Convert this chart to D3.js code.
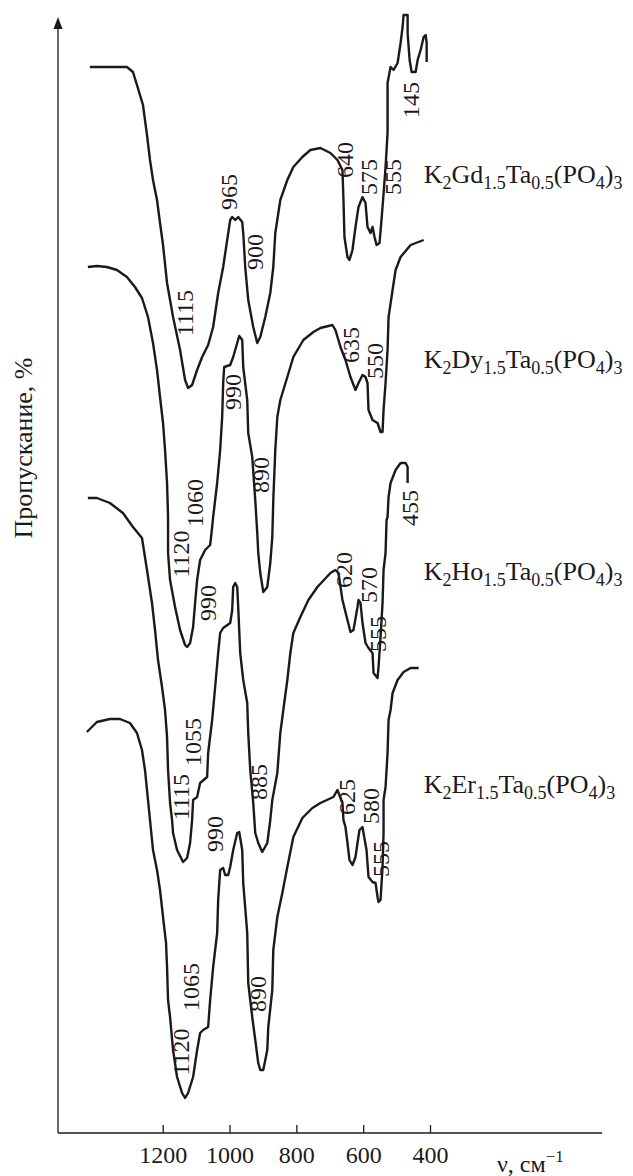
<!DOCTYPE html>
<html>
<head>
<meta charset="utf-8">
<script src="https://cdn.jsdelivr.net/npm/d3@7"></script>
<style>
    body { margin: 0; background: #fff; }
    svg text { font-family: "Liberation Serif", "Times New Roman", serif; fill: #1a1a1a; }
</style>
</head>
<body>
<svg id="chart" width="633" height="1176"></svg>
<script>
// wavenumber (cm-1) and stacked transmission (arb. units)
const tickValues = [1200, 1000, 800, 600, 400];
const seriesElements = ["Gd", "Dy", "Ho", "Er"];
// where each compound name sits: [wavenumber, level]
const seriesLabelPos = [[419, 95.0], [419, 76.5], [419, 55.3], [419, 34.0]];

const gdSpectrum = [
    [1418,106.6],[1307,106.6],[1289,106.1],[1277,104.8],[1259,102.8],[1247,99.8],[1238,97.3],[1229,95.3],
    [1217,93.3],[1208,91.0],[1199,88.8],[1187,85.0],[1169,81.6],[1148,78.3],[1133,75.3],[1124,74.5],
    [1112,74.8],[1097,76.3],[1082,77.6],[1064,78.8],[1049,80.6],[1034,84.0],[1019,86.6],[1007,89.3],
    [998,91.3],[992,91.6],[983,91.3],[974,91.6],[962,91.1],[959,90.0],[953,86.6],[944,83.3],[929,80.6],
    [917,79.0],[908,79.6],[893,81.6],[878,84.0],[869,86.6],[863,90.0],[848,93.3],[827,95.3],[809,96.6],
    [782,97.6],[758,98.3],[728,98.5],[698,98.0],[677,97.3],[662,96.3],[659,93.3],[656,89.6],[647,87.6],
    [641,87.3],[632,88.3],[623,90.6],[614,92.6],[602,93.6],[593,93.0],[587,90.6],[578,90.0],[572,90.6],
    [566,89.6],[560,88.8],[551,89.0],[542,92.6],[533,96.6],[527,100.0],[527,105.0],[518,106.6],[509,106.3],
    [497,107.0],[488,109.0],[482,110.6],[479,111.8],[467,111.8],[467,110.0],[461,107.3],[455,106.1],
    [443,106.1],[437,107.3],[428,108.3],[419,109.6],[413,109.8],[410,109.0],[410,107.1]
];

const dySpectrum = [
    [1424,86.6],[1397,86.7],[1367,86.6],[1337,86.3],[1307,85.6],[1283,84.6],[1262,83.5],[1244,81.6],
    [1229,79.0],[1217,76.3],[1208,73.6],[1199,71.0],[1193,68.3],[1187,65.0],[1184,61.6],[1184,58.0],
    [1178,55.3],[1163,52.6],[1148,50.3],[1133,48.8],[1127,48.6],[1118,49.0],[1109,50.6],[1103,53.0],
    [1097,55.3],[1088,57.3],[1073,58.3],[1058,58.8],[1052,60.6],[1049,61.6],[1037,65.0],[1028,68.3],
    [1022,71.6],[1019,75.0],[1016,76.6],[998,76.8],[989,77.6],[977,79.0],[971,79.7],[962,79.3],[959,76.6],
    [947,73.3],[944,70.0],[932,67.6],[923,63.3],[917,60.0],[914,58.0],[908,56.0],[899,54.1],[887,54.6],
    [878,57.0],[872,59.6],[869,63.3],[863,68.3],[857,71.6],[848,73.3],[827,75.6],[809,77.6],[779,79.3],
    [749,80.1],[728,80.5],[692,80.8],[683,80.3],[668,78.6],[653,77.3],[638,75.6],[623,74.3],[614,75.0],
    [602,75.8],[593,75.6],[587,75.0],[584,72.3],[572,71.3],[557,71.0],[548,70.1],[542,70.1],[539,72.3],
    [533,75.0],[527,78.3],[524,81.6],[512,84.3],[503,86.3],[488,87.6],[458,88.8],[419,89.3]
];

const hoSpectrum = [
    [1424,63.5],[1397,63.5],[1358,63.0],[1319,62.0],[1289,60.6],[1262,59.5],[1247,56.3],[1232,53.0],
    [1223,50.3],[1214,47.3],[1202,44.6],[1193,42.3],[1187,39.6],[1184,36.3],[1178,33.0],[1172,31.3],
    [1169,30.0],[1157,28.3],[1139,27.1],[1127,27.5],[1118,29.0],[1112,31.3],[1109,33.3],[1097,33.6],
    [1088,35.0],[1067,35.6],[1064,38.0],[1052,41.3],[1043,44.6],[1034,48.0],[1028,50.0],[1019,50.5],
    [998,51.0],[992,52.3],[989,54.6],[983,55.0],[977,54.6],[974,52.6],[968,48.0],[959,45.3],[947,43.0],
    [944,40.0],[938,36.3],[929,33.0],[923,30.0],[914,29.0],[902,28.1],[887,29.0],[878,31.3],[872,33.3],
    [857,36.0],[848,40.0],[839,42.3],[827,45.3],[818,48.0],[809,50.0],[788,51.6],[764,53.3],[737,54.6],
    [698,56.0],[683,56.3],[674,56.0],[662,53.3],[647,51.3],[638,50.1],[629,50.3],[617,52.6],[614,53.3],
    [608,53.0],[602,51.0],[593,49.0],[584,48.5],[572,48.0],[569,46.0],[557,45.5],[554,46.6],[548,49.6],
    [542,53.0],[539,56.3],[533,58.0],[530,61.3],[527,61.6],[524,63.6],[518,65.0],[503,66.3],[488,67.0],
    [473,67.0],[467,66.6],[467,65.0]
];

const erSpectrum = [
    [1427,40.1],[1397,41.1],[1358,41.4],[1328,41.4],[1298,41.0],[1277,40.0],[1262,38.3],[1253,36.3],
    [1244,33.3],[1238,31.3],[1229,28.3],[1217,26.3],[1208,24.3],[1199,21.6],[1190,19.0],[1187,16.6],
    [1184,13.3],[1178,11.6],[1169,8.3],[1157,5.6],[1142,4.0],[1133,3.5],[1124,4.0],[1109,5.6],[1097,8.3],
    [1088,10.0],[1079,10.3],[1064,10.6],[1058,13.3],[1049,16.6],[1037,20.0],[1034,23.3],[1028,26.3],
    [1019,26.5],[1013,25.8],[1004,25.8],[998,26.6],[989,28.3],[977,30.0],[971,30.1],[962,28.3],[959,25.0],
    [947,20.0],[944,15.0],[932,11.6],[923,9.3],[914,7.0],[908,6.3],[899,6.3],[887,8.3],[884,10.6],
    [872,14.3],[869,18.3],[857,21.6],[842,24.0],[827,26.6],[809,29.6],[782,31.5],[752,32.5],[728,33.0],
    [689,33.6],[677,34.3],[662,33.0],[659,31.3],[653,30.6],[647,29.0],[641,27.3],[632,26.8],[623,27.6],
    [617,29.0],[611,30.3],[602,30.6],[599,30.0],[590,28.3],[584,25.6],[572,25.1],[563,25.0],[557,23.6],
    [554,23.1],[548,23.3],[542,26.6],[539,30.0],[539,33.3],[533,34.6],[527,38.0],[524,41.3],[518,42.3],
    [512,44.0],[497,45.3],[479,46.1],[458,46.5],[434,46.5]
];

// peak annotations: [text, wavenumber, level]
const gdPeaks = [["965",1004,94.1],["900",926,88.1],["1115",1133,82.0],["640",656,97.3],["575",584,95.6],["555",512,95.6],["145",458,103.3]];
const dyPeaks = [["990",992,74.1],["890",908,65.8],["1060",1106,63.0],["1120",1145,57.9],["635",638,78.8],["550",566,77.2]];
const hoPeaks = [["990",1067,53.0],["1055",1112,39.1],["1115",1145,33.6],["885",914,35.1],["620",659,56.3],["570",584,54.8],["555",557,49.9],["455",461,62.5]];
const erPeaks = [["990",1046,29.9],["1065",1118,14.6],["1120",1145,8.1],["890",917,13.9],["625",650,33.6],["580",578,32.7],["555",548,27.4]];

const spectra = [gdSpectrum, dySpectrum, hoSpectrum, erSpectrum];
const peaks = [gdPeaks, dyPeaks, hoPeaks, erPeaks];

const svg = d3.select("#chart");
const ink = "#1a1a1a";

const x = d3.scaleLinear().domain([1200, 400]).range([162.7, 430]);
const y = d3.scaleLinear().domain([0, 111.6]).range([1133, 17]);

const originX = 58, axisRight = 602;

// x axis
let xAxis = svg.append("g")
    .attr("transform", "translate(0," + y(0) + ")")
    .call(d3.axisBottom(x).tickValues(tickValues).tickFormat(d3.format("d"))
        .tickSizeInner(-8).tickSizeOuter(0).tickPadding(13));
xAxis.select(".domain").remove();
xAxis.selectAll(".tick line").attr("stroke", ink).attr("stroke-width", 1.3);
xAxis.selectAll(".tick text").attr("font-size", 24).attr("font-family", "Liberation Serif, serif").attr("fill", ink);

svg.append("line")
    .attr("x1", originX).attr("x2", axisRight)
    .attr("y1", y(0)).attr("y2", y(0))
    .attr("stroke", ink).attr("stroke-width", 1.3);

// y axis with arrow
svg.append("line")
    .attr("x1", originX).attr("x2", originX)
    .attr("y1", y(0)).attr("y2", y(111.6) + 6)
    .attr("stroke", ink).attr("stroke-width", 1.3);
svg.append("path")
    .attr("d", "M" + originX + "," + y(111.6) + " L" + (originX - 4.5) + "," + (y(111.6) + 12) + " L" + (originX + 4.5) + "," + (y(111.6) + 12) + " Z")
    .attr("fill", ink);

// axis titles
svg.append("text")
    .attr("transform", "translate(32,448) rotate(-90)")
    .attr("text-anchor", "middle")
    .attr("font-size", 26)
    .text("Пропускание, %");

let xTitle = svg.append("text")
    .attr("x", 497).attr("y", 1172)
    .attr("font-size", 24);
xTitle.append("tspan").text("ν, см");
xTitle.append("tspan").attr("font-size", 17).attr("dy", -10).text("−1");

// spectra
const line = d3.line()
    .x(function (d) { return x(d[0]); })
    .y(function (d) { return y(d[1]); });

svg.append("g").attr("id", "spectraG")
    .selectAll("path")
    .data(spectra)
    .enter()
    .append("path")
    .attr("d", line)
    .attr("fill", "none")
    .attr("stroke", ink)
    .attr("stroke-width", 2.4)
    .attr("stroke-linejoin", "round");

// peak labels
let peakG = svg.append("g").attr("id", "peaksG");
peaks.forEach(function (list) {
    list.forEach(function (p) {
        peakG.append("text")
            .attr("transform", "translate(" + x(p[1]) + "," + y(p[2]) + ") rotate(-90)")
            .attr("text-anchor", "middle")
            .attr("dy", "0.35em")
            .attr("font-size", 24)
            .text(p[0]);
    });
});

// compound names with subscripts
function formulaParts(el) {
    return [["K", 0], ["2", 1], [el, 0], ["1.5", 1], ["Ta", 0], ["0.5", 1], ["(PO", 0], ["4", 1], [")", 0], ["3", 1]];
}

seriesElements.forEach(function (el, i) {
    let t = svg.append("text")
        .attr("x", x(seriesLabelPos[i][0]))
        .attr("y", y(seriesLabelPos[i][1]))
        .attr("font-size", 26);
    let shifted = false;
    formulaParts(el).forEach(function (part) {
        let span = t.append("tspan").text(part[0]);
        if (part[1]) {
            span.attr("font-size", 18).attr("dy", shifted ? 0 : 6);
            shifted = true;
        } else {
            if (shifted) span.attr("dy", -6);
            shifted = false;
        }
    });
});
</script>
</body>
</html>
